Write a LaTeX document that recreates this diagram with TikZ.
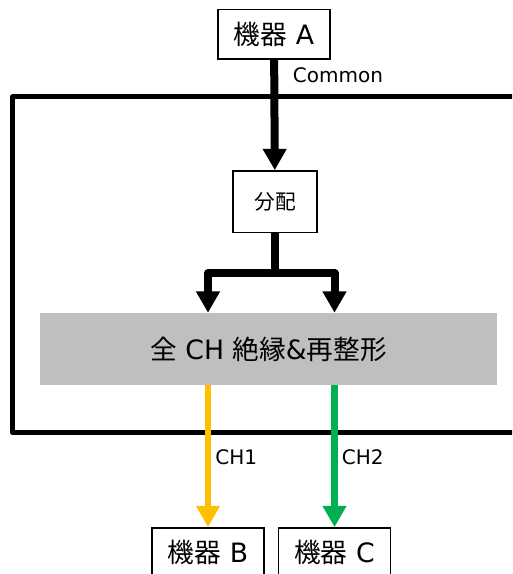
\documentclass[tikz,border=0pt]{standalone}
\usepackage{fontspec}
\setmainfont{DejaVu Sans}
\newfontfamily\jp{Noto Sans CJK JP}
\usetikzlibrary{arrows.meta}
\definecolor{chone}{HTML}{FFC000}
\definecolor{chtwo}{HTML}{00B050}
\begin{document}
\begin{tikzpicture}[
	x = 0.75pt, y = -0.75pt,  % one unit is one pixel of the reference
	every node/.style = {inner sep=0pt, font=\fontsize{20}{24}\selectfont},
	dev/.style = {draw, line width=1pt, fill=white, minimum width=84pt, minimum height=37pt},
	dist/.style = {draw, line width=1pt, fill=white, minimum width=63pt, minimum height=46pt, font=\jp\fontsize{15.5}{18}\selectfont},
	iso/.style = {fill=black!25, minimum width=343pt, minimum height=54pt},
	lbl/.style = {text=black, font=\fontsize{15}{18}\selectfont, anchor=west},
	frame/.style = {line width=3.75pt, line join=round},
	fatline/.style = {line width=6pt, line join=round},
	fatarrow/.style = {line width=6pt, line join=round, -{Triangle[width=17pt,length=16pt]}},
	charrow/.style = {line width=5pt, -{Triangle[width=17pt,length=16pt]}}
	]
	
	\useasboundingbox (0,0) rectangle (512,574);
	\clip (0,0) rectangle (512,574);
	
	\begin{scope}
	\draw[frame] (540,97) -| (12.5,432.5) -- (540,432.5);
	
	\node[dev] (devA) at (274,34.5) {{\jp 機器} A};
	\node[dist] (dist) at (275,201.5) {分配};
	\node[iso] (iso) at (268.5,349) {{\jp 全} CH {\jp 絶縁}\&{\jp 再整形}};
	\node[dev] (devB) at (208,552.5) {{\jp 機器} B};
	\node[dev] (devC) at (334.5,552.5) {{\jp 機器} C};
	\coordinate (fork) at (275,273);
	
	\draw[fatarrow] (devA) -- node[lbl, pos=0.14, xshift=11pt] {Common} (dist);
	\draw[fatline] (dist) -- (fork);
	\draw[fatarrow] (fork) -| (iso.north -| devB.north);
	\draw[fatarrow] (fork) -| (iso.north -| devC.north);
	
	\draw[charrow, chone] (iso.south -| devB.north) -- node[lbl, xshift=3pt, yshift=-1pt] {CH1} (devB);
	\draw[charrow, chtwo] (iso.south -| devC.north) -- node[lbl, xshift=3pt, yshift=-1pt] {CH2} (devC);
	\end{scope}
\end{tikzpicture}
\end{document}
